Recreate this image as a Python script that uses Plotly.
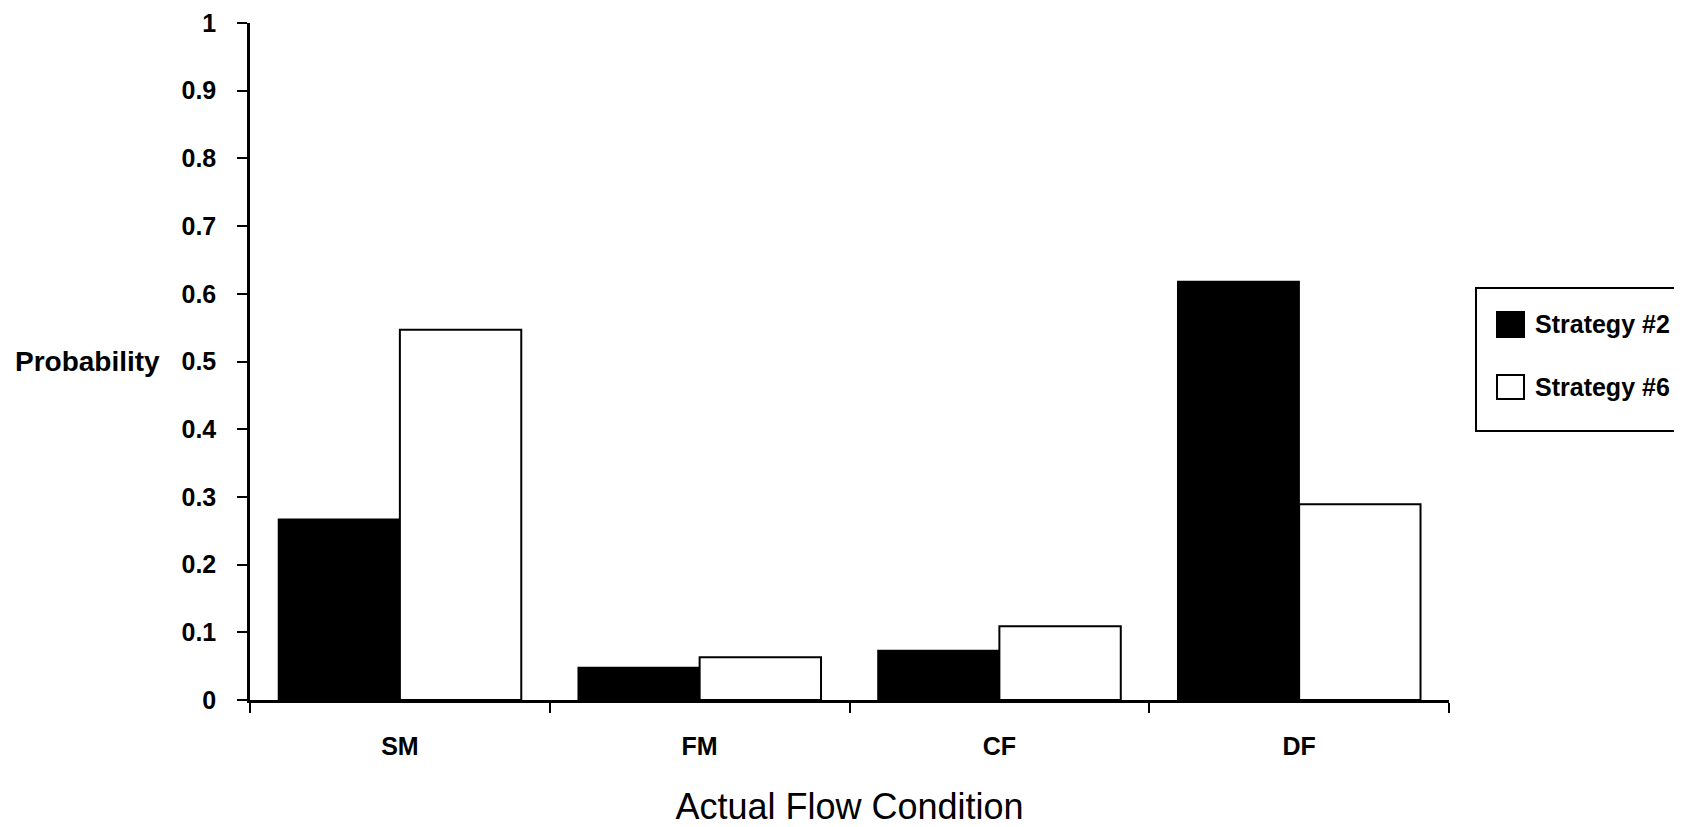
import plotly.graph_objects as go

# ---- data ----
categories = ["SM", "FM", "CF", "DF"]
series_names = ["Strategy #2", "Strategy #6"]
strategy2 = [0.267, 0.048, 0.073, 0.618]
strategy6 = [0.547, 0.063, 0.109, 0.289]
y_ticks = [0, 0.1, 0.2, 0.3, 0.4, 0.5, 0.6, 0.7, 0.8, 0.9, 1]
y_tick_labels = ["0", "0.1", "0.2", "0.3", "0.4", "0.5", "0.6", "0.7", "0.8", "0.9", "1"]

# page has an 8px body margin; work in page pixels and convert
BODY = 8
W, H = 1682 - BODY, 827 - BODY
PLOT_L, PLOT_R, PLOT_T, PLOT_B = 250, 1449, 23, 700  # page pixels
ML = PLOT_L - BODY
MT = PLOT_T - BODY
MR = W - (PLOT_R - BODY)
MB = H - (PLOT_B - BODY)
PW, PH = PLOT_R - PLOT_L, PLOT_B - PLOT_T
FONT = "Liberation Sans, Arial, Helvetica, sans-serif"


def px_x(px):
    return (px - PLOT_L) / PW


def px_y(py):
    return (PLOT_B - py) / PH


fig = go.Figure()
fig.add_trace(go.Bar(x=categories, y=strategy2, name=series_names[0],
                     marker=dict(color="black", line=dict(color="black", width=1.5)),
                     showlegend=False))
fig.add_trace(go.Bar(x=categories, y=strategy6, name=series_names[1],
                     marker=dict(color="white", line=dict(color="black", width=2)),
                     showlegend=False))

axis_common = dict(showgrid=False, zeroline=False, showline=True, linecolor="black",
                   linewidth=2.5, tickcolor="black", tickwidth=2, ticklen=10,
                   ticklabeloverflow="allow")
tick_font = dict(size=25, family="Liberation Sans, Arial, sans-serif", weight="bold")

fig.update_layout(
    width=W, height=H,
    margin=dict(l=ML, r=MR, t=MT, b=MB, autoexpand=False),
    paper_bgcolor="white", plot_bgcolor="white",
    barmode="group", bargap=0.19, bargroupgap=0,
    font=dict(family=FONT, color="black", size=25),
    xaxis=dict(**axis_common, type="category", range=[-0.5, 3.5], ticks="outside",
               tickson="boundaries", tickfont=tick_font, ticklabelstandoff=22,
               title=dict(text="Actual Flow Condition", font=dict(size=36), standoff=38)),
    yaxis=dict(**axis_common, range=[0, 1], tickvals=y_ticks, ticktext=y_tick_labels,
               ticks="outside", tickfont=tick_font, ticklabelstandoff=16),
    xaxis2=dict(overlaying="x", anchor="y", range=[-0.5, 3.5], tickvals=[-0.5, 0.5, 1.5, 2.5, 3.5],
                ticks="inside", ticklen=10, tickwidth=2, tickcolor="black", showticklabels=False,
                showgrid=False, zeroline=False, showline=False, side="bottom"),
    yaxis2=dict(overlaying="y", anchor="x", range=[0, 1], tickvals=y_ticks,
                ticks="inside", ticklen=10, tickwidth=2, tickcolor="black", showticklabels=False,
                showgrid=False, zeroline=False, showline=False, side="left"),
)

# Y label (horizontal, to the left of tick labels)
fig.add_annotation(text="Probability", xref="paper", yref="y", x=px_x(162), y=0.5,
                   xanchor="right", yanchor="middle", showarrow=False,
                   font=dict(size=28, weight="bold"))

# Legend box (extends past the right edge as in the reference)
fig.add_shape(type="rect", xref="paper", yref="paper", x0=px_x(1476), x1=px_x(1700),
              y0=px_y(431), y1=px_y(288), line=dict(color="black", width=2), fillcolor="white",
              layer="above")
legend_fills = ["black", "white"]
legend_rows = [(312, 337), (375, 399)]
for name, fill, (t, b) in zip(series_names, legend_fills, legend_rows):
    fig.add_shape(type="rect", xref="paper", yref="paper", x0=px_x(1497), x1=px_x(1524),
                  y0=px_y(b), y1=px_y(t), line=dict(color="black", width=2), fillcolor=fill,
                  layer="above")
    fig.add_annotation(text=name, xref="paper", yref="paper", x=px_x(1533), y=px_y((t + b) / 2),
                       xanchor="left", yanchor="middle", showarrow=False,
                       font=dict(size=25, weight="bold"))

fig.write_html("out.html")
